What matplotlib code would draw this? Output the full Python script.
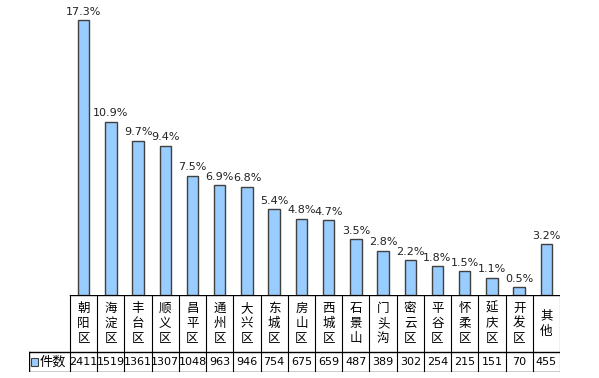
import matplotlib
matplotlib.use('Agg')
import matplotlib.pyplot as plt

plt.rcParams['font.family'] = ['Noto Sans CJK SC', 'DejaVu Sans']

districts = ['朝阳区', '海淀区', '丰台区', '顺义区', '昌平区', '通州区', '大兴区', '东城区', '房山区',
             '西城区', '石景山', '门头沟', '密云区', '平谷区', '怀柔区', '延庆区', '开发区', '其他']
counts = [2411, 1519, 1361, 1307, 1048, 963, 946, 754, 675, 659, 487, 389, 302, 254, 215, 151, 70, 455]
shares = [17.3, 10.9, 9.7, 9.4, 7.5, 6.9, 6.8, 5.4, 4.8, 4.7, 3.5, 2.8, 2.2, 1.8, 1.5, 1.1, 0.5, 3.2]
series_name = '件数'

W, H = 599, 378
fig = plt.figure(figsize=(W / 100, H / 100), dpi=100)

x0, x1 = 70, 560          # plot area in pixels
base, top = 295, 9
unit = (x1 - x0) / len(districts)

ax = fig.add_axes([x0 / W, 1 - base / H, (x1 - x0) / W, (base - top) / H])
xs = [i + 0.5 for i in range(len(districts))]
ax.bar(xs, shares, width=0.42, color='#99ccff', edgecolor='#404040', linewidth=1.0)
for x, v in zip(xs, shares):
    ax.text(x, v + 0.22, f'{v}%', ha='center', va='bottom', fontsize=8,
            color='#222222', family='DejaVu Sans')
ax.set_xlim(0, len(districts))
ax.set_ylim(0, 18)
ax.axis('off')

# data table below the plot
tl = x0 - 41
tab = fig.add_axes([tl / W, 1 - 372 / H, (x1 - tl) / W, (372 - base) / H])
left = -(x0 - tl) / unit
tab.set_xlim(left, len(districts))
tab.set_ylim(0, 1)
tab.axis('off')
row = 20 / 77
lc = '#000000'
tab.plot([0, len(districts)], [1, 1], color=lc, lw=1)
tab.plot([left, len(districts)], [row, row], color=lc, lw=1)
tab.plot([left, len(districts)], [0, 0], color=lc, lw=1)
tab.plot([left, left], [0, row], color=lc, lw=1)
for i in range(len(districts) + 1):
    tab.plot([i, i], [0, 1.04], color=lc, lw=0.8)

for x, name, c in zip(xs, districts, counts):
    tab.text(x, (1 + row) / 2, '\n'.join(name), ha='center', va='center',
             fontsize=9, linespacing=1.2, color='#000000')
    tab.text(x, row / 2, str(c), ha='center', va='center', fontsize=8,
             color='#000000', family='DejaVu Sans')

tab.add_patch(plt.Rectangle((left + 0.08, row * 0.32), 0.25, row * 0.38,
                            facecolor='#99ccff', edgecolor='#404040', lw=0.8))
tab.text(left + 0.4, row / 2, series_name, ha='left', va='center', fontsize=9.5)

fig.savefig('out.png', dpi=100)
